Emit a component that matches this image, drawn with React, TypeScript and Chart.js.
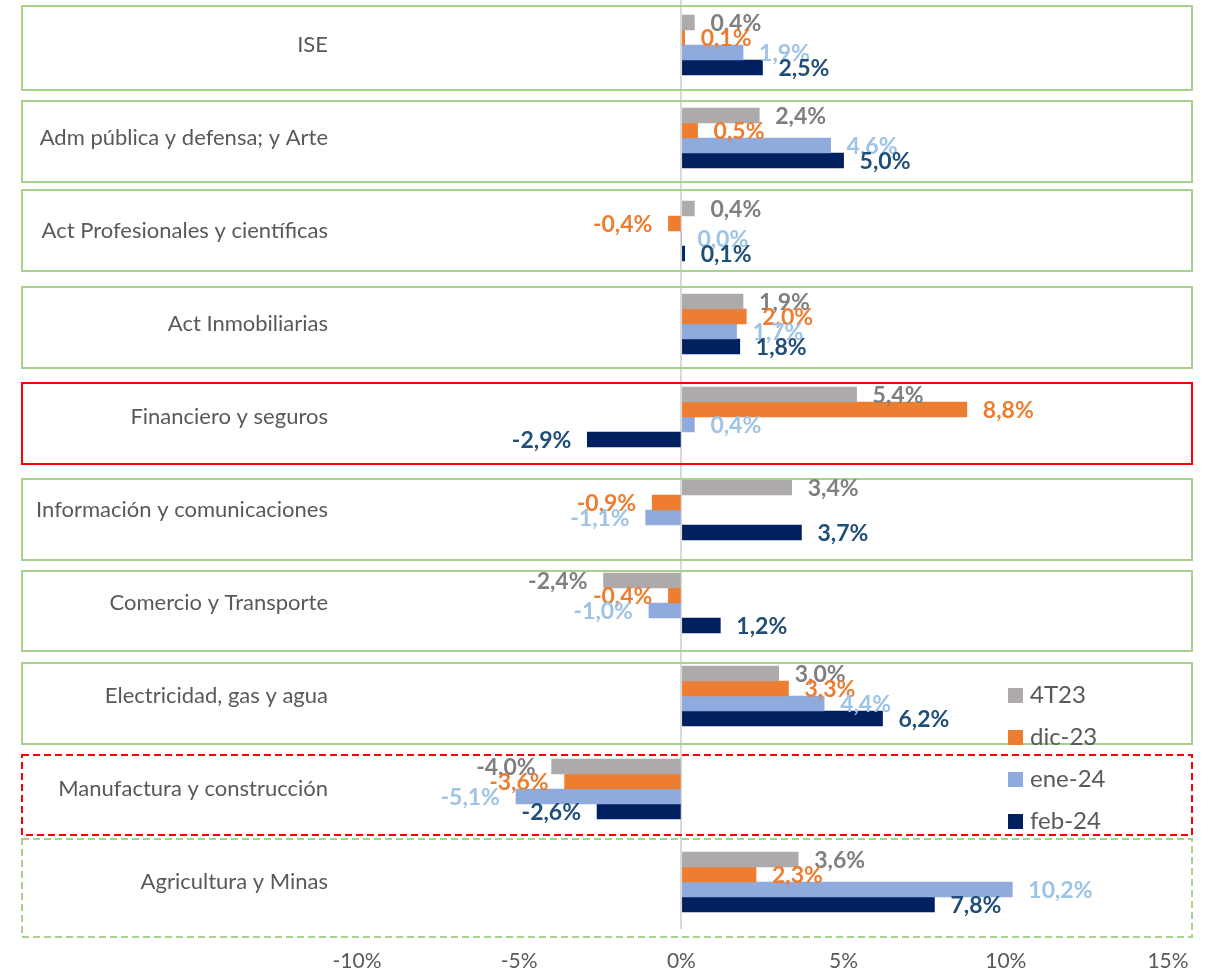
import React, { useEffect, useRef } from 'react';
import { Chart, registerables } from 'chart.js';

Chart.register(...registerables);

const categories = [
  'ISE',
  'Adm pública y defensa; y Arte',
  'Act Profesionales y científicas',
  'Act Inmobiliarias',
  'Financiero y seguros',
  'Información y comunicaciones',
  'Comercio y Transporte',
  'Electricidad, gas y agua',
  'Manufactura y construcción',
  'Agricultura y Minas',
];
const seriesNames = ['4T23', 'dic-23', 'ene-24', 'feb-24'];
const s4T23 = [0.4, 2.4, 0.4, 1.9, 5.4, 3.4, -2.4, 3.0, -4.0, 3.6];
const sDic23 = [0.1, 0.5, -0.4, 2.0, 8.8, -0.9, -0.4, 3.3, -3.6, 2.3];
const sEne24 = [1.9, 4.6, 0.0, 1.7, 0.4, -1.1, -1.0, 4.4, -5.1, 10.2];
const sFeb24 = [2.5, 5.0, 0.1, 1.8, -2.9, 3.7, 1.2, 6.2, -2.6, 7.8];
const xMin = -10;
const xMax = 15;
const xStep = 5;

const barColors = ['#AEAAAA', '#ED7D31', '#8FAADC', '#002060'];
const labelColors = ['#7F7F7F', '#ED7D31', '#9DC3E6', '#1F4E79'];

const GREEN = '#A9D18E';
const RED = '#FF0000';
// decorative frames around each category row (offsets from category centre)
const frames = [
  { color: GREEN, dash: [] as number[], top: -39, bottom: 45 },
  { color: GREEN, dash: [], top: -37, bottom: 44 },
  { color: GREEN, dash: [], top: -41, bottom: 40 },
  { color: GREEN, dash: [], top: -37, bottom: 44 },
  { color: RED, dash: [], top: -34, bottom: 47 },
  { color: GREEN, dash: [], top: -31, bottom: 50 },
  { color: GREEN, dash: [], top: -32, bottom: 48 },
  { color: GREEN, dash: [], top: -33, bottom: 48 },
  { color: RED, dash: [7, 4], top: -34, bottom: 46 },
  { color: GREEN, dash: [7, 4], top: -43, bottom: 55 },
];

const FONT = 'Lato, "Open Sans", sans-serif';

const fmt = (v: number) => v.toFixed(1).replace('.', ',') + '%';

const decoPlugin = {
  id: 'deco',
  afterDatasetsDraw(chart: any) {
    const ctx = chart.ctx;
    const yScale = chart.scales.y;
    // frames
    ctx.save();
    frames.forEach((f, i) => {
      const c = yScale.getPixelForValue(i);
      ctx.strokeStyle = f.color;
      ctx.lineWidth = 2;
      ctx.setLineDash(f.dash);
      ctx.strokeRect(22, c + f.top, 1170, f.bottom - f.top);
    });
    ctx.restore();

    // data labels
    ctx.save();
    ctx.font = `bold 23px ${FONT}`;
    ctx.textBaseline = 'middle';
    chart.data.datasets.forEach((ds: any, di: number) => {
      const meta = chart.getDatasetMeta(di);
      meta.data.forEach((el: any, i: number) => {
        const v = ds.data[i];
        ctx.fillStyle = labelColors[di];
        if (v >= 0) {
          ctx.textAlign = 'left';
          ctx.fillText(fmt(v), el.x + 16, el.y + 1);
        } else {
          ctx.textAlign = 'right';
          ctx.fillText(fmt(v), el.x - 16, el.y + 1);
        }
      });
    });
    ctx.restore();

    // legend
    ctx.save();
    ctx.font = `24px ${FONT}`;
    ctx.textBaseline = 'middle';
    ctx.textAlign = 'left';
    chart.data.datasets.forEach((ds: any, di: number) => {
      const cy = 697.5 + di * 42;
      ctx.fillStyle = ds.backgroundColor;
      ctx.fillRect(1008, cy - 7.5, 15, 15);
      ctx.fillStyle = '#595959';
      ctx.fillText(ds.label, 1030, cy);
    });
    ctx.restore();
  },
};

export default function App() {
  const ref = useRef<HTMLCanvasElement | null>(null);
  useEffect(() => {
    if (!ref.current) return;
    const series = [s4T23, sDic23, sEne24, sFeb24];
    const chart = new Chart(ref.current, {
      type: 'bar',
      data: {
        labels: categories,
        datasets: series.map((d, i) => ({
          label: seriesNames[i],
          data: d,
          backgroundColor: barColors[i],
          borderWidth: 0,
          barThickness: 15,
        })),
      },
      options: {
        indexAxis: 'y',
        animation: false,
        responsive: false,
        maintainAspectRatio: false,
        layout: { padding: { top: 0.5, right: 41, left: 0, bottom: 0 } },
        plugins: {
          legend: { display: false },
          tooltip: { enabled: false },
        },
        scales: {
          x: {
            min: xMin,
            max: xMax,
            ticks: {
              stepSize: xStep,
              callback: (v: any) => v + '%',
              color: '#595959',
              font: { family: FONT, size: 21 },
              padding: 20,
            },
            grid: {
              drawTicks: false,
              color: (c: any) => (c.tick && c.tick.value === 0 ? '#D9D9D9' : 'rgba(0,0,0,0)'),
              lineWidth: 2,
            },
            border: { display: false },
            afterFit: (s: any) => {
              s.height = 41.5;
              s.paddingLeft = 0;
              s.paddingRight = 0;
            },
          },
          y: {
            ticks: {
              color: '#595959',
              font: { family: FONT, size: 22 },
              padding: 29,
            },
            grid: { display: false, drawTicks: false },
            border: { display: false },
            afterFit: (s: any) => {
              s.width = 357;
              s.paddingTop = 0;
              s.paddingBottom = 0;
            },
          },
        },
      },
      plugins: [decoPlugin],
    });
    return () => chart.destroy();
  }, []);
  return (
    <div style={{ position: 'absolute', left: 0, top: -2, width: 1209, height: 972 }}>
      <canvas ref={ref} width={1209} height={972} style={{ width: 1209, height: 972, display: 'block' }} />
    </div>
  );
}
